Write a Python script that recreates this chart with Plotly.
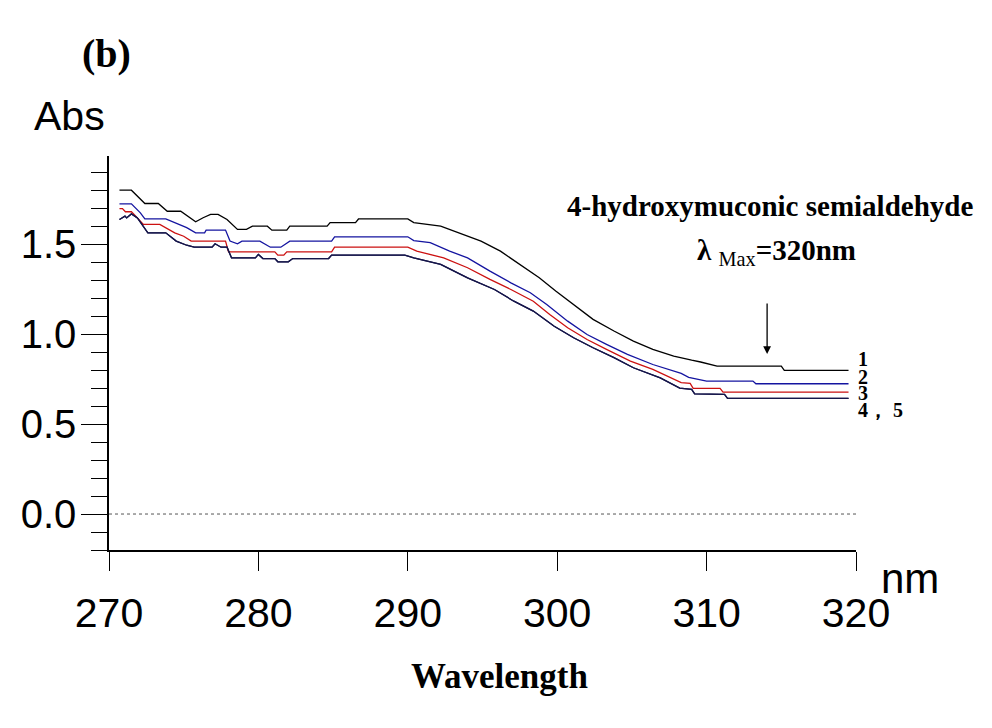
import plotly.graph_objects as go

# ---------------- data ----------------
wl_1 = [270.7, 271.5, 272.4, 273.3, 273.9, 274.8, 275.8, 276.3, 276.8, 277.3, 277.9, 278.6,
        279.2, 279.6, 280.6, 280.9, 281.9, 282.1, 284.6, 284.8, 286.5, 286.7, 290.0, 290.4,
        292.2, 293.1, 294.9, 296.2, 297.5, 298.8, 299.9, 301.1, 302.4, 303.8, 305.1, 306.4,
        307.8, 309.0, 309.6, 310.7, 315.0, 315.2, 319.5]
abs_1 = [1.800, 1.800, 1.726, 1.726, 1.683, 1.683, 1.624, 1.647, 1.665, 1.665, 1.637, 1.582,
         1.582, 1.600, 1.600, 1.578, 1.578, 1.600, 1.600, 1.620, 1.620, 1.640, 1.640, 1.620,
         1.600, 1.572, 1.517, 1.461, 1.387, 1.313, 1.239, 1.165, 1.082, 1.017, 0.961, 0.915,
         0.878, 0.855, 0.845, 0.822, 0.822, 0.798, 0.798]

wl_2 = [270.7, 271.5, 272.1, 272.4, 273.8, 274.4, 275.2, 275.8, 276.4, 276.5, 277.8, 278.1,
        278.6, 278.9, 280.1, 280.8, 281.5, 282.1, 284.9, 285.1, 290.0, 290.4, 291.5, 292.8,
        294.0, 295.5, 296.9, 298.2, 299.3, 300.7, 302.0, 303.3, 304.7, 306.4, 308.3, 308.8,
        309.6, 310.0, 313.1, 313.3, 319.5]
abs_2 = [1.724, 1.724, 1.674, 1.640, 1.640, 1.620, 1.592, 1.563, 1.563, 1.578, 1.578, 1.517,
         1.502, 1.517, 1.517, 1.483, 1.483, 1.517, 1.517, 1.541, 1.541, 1.520, 1.508, 1.461,
         1.424, 1.350, 1.285, 1.230, 1.165, 1.072, 0.998, 0.943, 0.887, 0.831, 0.782, 0.760,
         0.745, 0.739, 0.739, 0.724, 0.724]

wl_3 = [270.7, 270.9, 271.1, 271.5, 271.9, 272.3, 273.4, 274.0, 274.4, 275.0, 275.5, 277.8,
        278.0, 281.1, 281.3, 281.7, 281.9, 284.9, 285.1, 290.0, 290.6, 292.4, 294.0, 295.5,
        296.9, 298.4, 299.5, 300.7, 302.0, 303.3, 304.9, 306.4, 308.3, 308.9, 309.1, 310.9,
        311.1, 319.5]
abs_3 = [1.698, 1.698, 1.680, 1.680, 1.646, 1.610, 1.610, 1.582, 1.563, 1.544, 1.517, 1.517,
         1.457, 1.457, 1.439, 1.439, 1.457, 1.457, 1.483, 1.483, 1.461, 1.424, 1.369, 1.304,
         1.248, 1.183, 1.109, 1.035, 0.970, 0.915, 0.850, 0.804, 0.730, 0.726, 0.698, 0.698,
         0.678, 0.678]

wl_4 = [270.7, 271.07, 271.18, 271.5, 271.9, 272.6, 273.8, 274.5, 275.2, 275.7, 276.9, 277.1,
        277.5, 277.9, 278.2, 279.8, 280.0, 280.3, 281.1, 281.3, 282.0, 282.3, 284.7, 284.9,
        289.8, 290.4, 292.2, 294.0, 295.8, 297.1, 298.4, 299.8, 301.1, 302.4, 303.8, 305.1,
        306.9, 308.2, 309.0, 309.2, 311.2, 311.4, 319.5]
abs_4 = [1.637, 1.656, 1.646, 1.668, 1.646, 1.563, 1.563, 1.517, 1.494, 1.483, 1.483, 1.502,
         1.483, 1.483, 1.424, 1.424, 1.443, 1.420, 1.420, 1.402, 1.402, 1.420, 1.420, 1.439,
         1.439, 1.424, 1.387, 1.313, 1.248, 1.183, 1.128, 1.044, 0.980, 0.924, 0.869, 0.813,
         0.757, 0.700, 0.693, 0.668, 0.665, 0.643, 0.643]

# curves 4 and 5 coincide in the reference
wl_5 = list(wl_4)
abs_5 = list(abs_4)

series_names = ["1", "2", "3", "4", "5"]
series_colors = ["#000000", "#1414a0", "#cc1111", "#15154a", "#15154a"]

x_ticks = [270, 280, 290, 300, 310, 320]
curve_labels = ["1", "2", "3", "4， 5"]
curve_label_y = [0.861, 0.763, 0.672, 0.578]

# ---------------- figure ----------------
fig = go.Figure()
for wl, ab, name, col in zip([wl_1, wl_2, wl_3, wl_4, wl_5],
                             [abs_1, abs_2, abs_3, abs_4, abs_5],
                             series_names, series_colors):
    fig.add_trace(go.Scatter(x=wl, y=ab, mode="lines", name=name,
                             line=dict(color=col, width=1.3), showlegend=False,
                             hoverinfo="x+y"))

# dotted zero line
fig.add_shape(type="line", xref="x", yref="y", x0=270, x1=320, y0=0, y1=0,
              line=dict(color="#555555", width=1, dash="3px,3px"), layer="below")

sans = "Liberation Sans, Arial, sans-serif"
serif = "Liberation Serif, Times New Roman, serif"

fig.update_layout(
    width=992, height=728,
    margin=dict(l=101, r=144, t=148, b=186, autoexpand=False),
    paper_bgcolor="white", plot_bgcolor="white",
    xaxis=dict(range=[270, 320], tickvals=x_ticks, ticks="outside", ticklen=19,
               tickwidth=1.3, tickcolor="black", showline=True, linecolor="black",
               linewidth=1.5, showgrid=False, zeroline=False, automargin=False,
               tickfont=dict(family=sans, size=41, color="black"),
               ticklabelstandoff=7),
    yaxis=dict(range=[-0.2, 1.99], tick0=0, dtick=0.5, tickformat=".1f",
               ticks="outside", ticklen=26, tickwidth=1.3, tickcolor="black",
               showline=True, linecolor="black", linewidth=1.5, showgrid=False,
               zeroline=False, automargin=False,
               tickfont=dict(family=sans, size=40, color="black"),
               ticklabelstandoff=-3,
               minor=dict(dtick=0.1, tick0=0, ticks="outside", ticklen=16,
                          tickwidth=1.2, tickcolor="black", showgrid=False)),
)

ann = []
def paper_text(text, x, y, family, size):
    return dict(text=text, x=x, y=y, xref="paper", yref="paper", xanchor="center",
                yanchor="middle", showarrow=False,
                font=dict(family=family, size=size, color="black"))

ann.append(paper_text("<b>(b)</b>", -0.0027, 1.259, serif, 40))
ann.append(paper_text("Abs", -0.0535, 1.1015, sans, 41))
ann.append(paper_text("nm", 1.0723, -0.0711, sans, 42))
ann.append(paper_text("<b>Wavelength</b>", 0.5234, -0.3223, serif, 35))
ann.append(dict(text="<b>4-hydroxymuconic semialdehyde</b>", x=314.24, y=1.711,
                xref="x", yref="y", xanchor="center", yanchor="middle", showarrow=False,
                font=dict(family=serif, size=29, color="black")))
ann.append(dict(text="<b>λ</b> <sub>Max</sub><b>=320nm</b>", x=314.7, y=1.455,
                xref="x", yref="y", xanchor="center", yanchor="middle", showarrow=False,
                font=dict(family=serif, size=29, color="black")))
# arrow pointing at curve 1
ann.append(dict(text="", x=314.05, y=0.889, xref="x", yref="y", ax=0, ay=-52,
                showarrow=True, arrowhead=2, arrowsize=1.2, arrowwidth=1.3,
                arrowcolor="black", standoff=0))
for lab, yv in zip(curve_labels, curve_label_y):
    ann.append(dict(text="<b>" + lab + "</b>", x=320.0, y=yv, xref="x", yref="y",
                    xanchor="left", yanchor="middle", showarrow=False,
                    font=dict(family=serif, size=20, color="black")))
fig.update_layout(annotations=ann)

fig.write_html("out.html")
